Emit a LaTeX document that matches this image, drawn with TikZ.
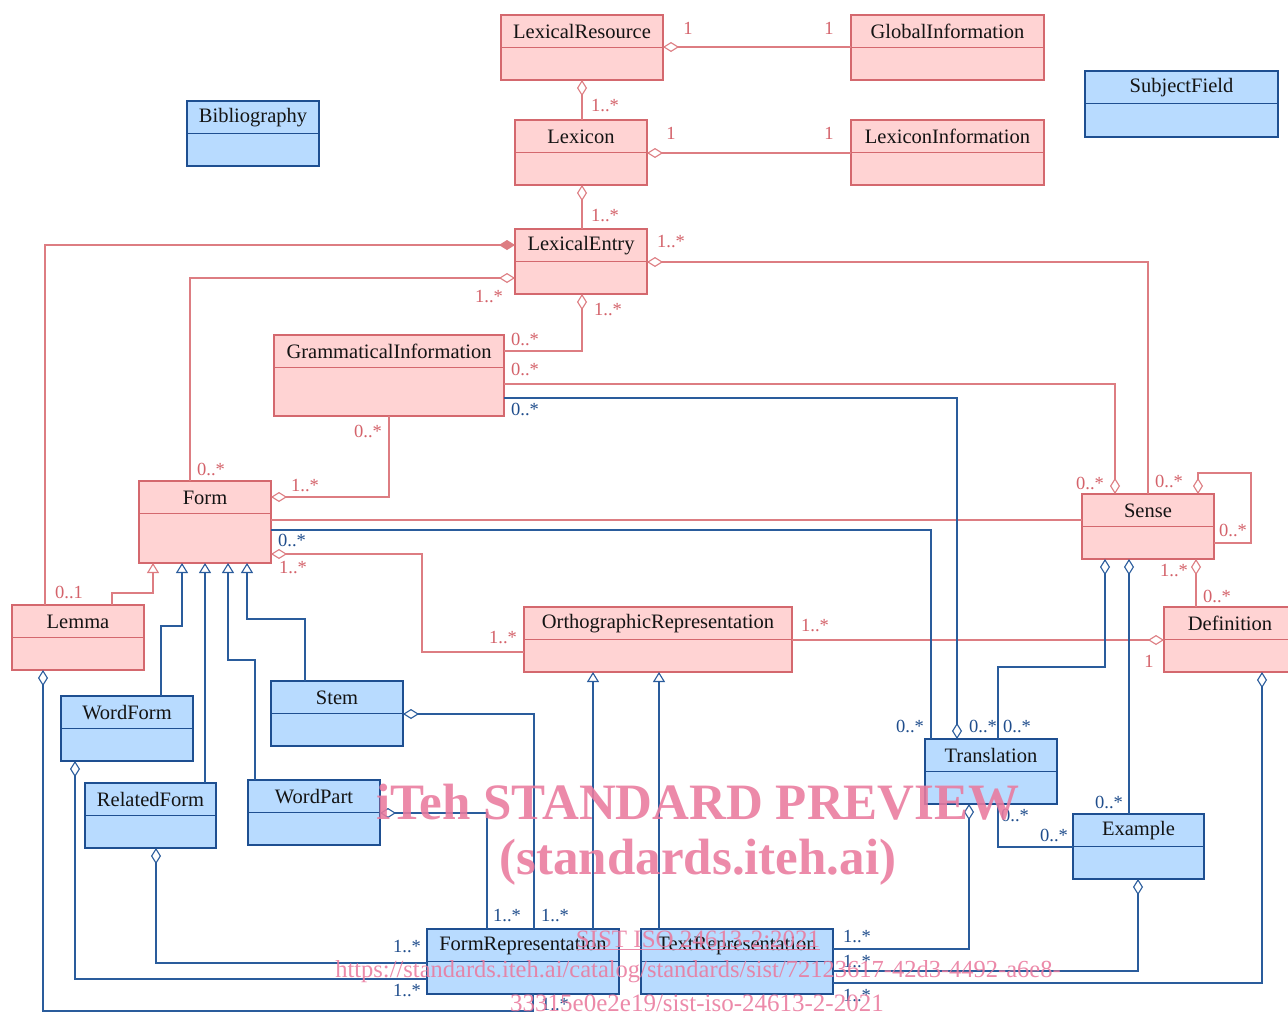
\documentclass[tikz,border=0pt]{standalone}
\usepackage{fontspec}
\setmainfont{Liberation Serif}
\usetikzlibrary{arrows.meta,calc}
\definecolor{pkfill}{HTML}{FFD3D3}
\definecolor{pkdraw}{HTML}{D4686E}
\definecolor{pkline}{HTML}{DD7D82}
\definecolor{pklab}{HTML}{D4626A}
\definecolor{blfill}{HTML}{B8DBFF}
\definecolor{bldraw}{HTML}{1E4F91}
\definecolor{blline}{HTML}{2A5C9C}
\definecolor{bllab}{HTML}{1F4D8C}
\definecolor{wmcol}{HTML}{EA7A9E}
\tikzset{
  pkbox/.style={draw=pkdraw, fill=pkfill, line width=1.2pt, rectangle, inner sep=0pt, outer sep=0pt},
  blbox/.style={draw=bldraw, fill=blfill, line width=1.2pt, rectangle, inner sep=0pt, outer sep=0pt},
  pkdiv/.style={draw=pkdraw, line width=1.8pt},
  bldiv/.style={draw=bldraw, line width=1.8pt},
  hdr/.style={inner sep=0pt, text=black!92, font=\fontsize{20.5}{23}\selectfont},
  pk/.style={draw=pkline, line width=1.1pt},
  bl/.style={draw=blline, line width=1.1pt},
  pklbl/.style={inner sep=0pt, text=pklab, font=\fontsize{18.5}{20}\selectfont},
  bllbl/.style={inner sep=0pt, text=bllab, font=\fontsize{18.5}{20}\selectfont},
  wm/.style={inner sep=0pt, text=wmcol, text opacity=0.88},
  odia/.tip={Diamond[open,fill=white,length=16pt,width=10pt]},
  fdia/.tip={Diamond[length=16pt,width=10pt]},
  gtri/.tip={Triangle[open,fill=white,length=10pt,width=12pt]},
}
\newcommand\umlbox[7]{%
  \node[#6box, minimum width=#4pt, minimum height=#5pt, anchor=north west] (#1) at (#2,#3) {};
  \draw[#6div] ([yshift=-32.5pt]#1.north west) -- ([yshift=-32.5pt]#1.north east);
  \node[hdr] (#1t) at ([yshift=-16.5pt]#1.north) {#7};
}
\begin{document}
\begin{tikzpicture}[x=1pt,y=-1pt]
\useasboundingbox (0,0) rectangle (1288,1015);
\fill[white] (0,0) rectangle (1288,1015);
% ---------- classes ----------
\umlbox{lr}{501}{15}{162}{65}{pk}{LexicalResource}
\umlbox{ginfo}{851}{15}{193}{65}{pk}{GlobalInformation}
\umlbox{sf}{1085}{71}{193}{66}{bl}{SubjectField}
\umlbox{bib}{187}{101}{132}{65}{bl}{Bibliography}
\umlbox{lex}{515}{120}{132}{65}{pk}{Lexicon}
\umlbox{lexinfo}{851}{120}{193}{65}{pk}{LexiconInformation}
\umlbox{le}{515}{229}{132}{65}{pk}{LexicalEntry}
\umlbox{gram}{274}{335}{230}{81}{pk}{GrammaticalInformation}
\umlbox{form}{139}{481}{132}{82}{pk}{Form}
\umlbox{sense}{1082}{494}{132}{65}{pk}{Sense}
\umlbox{lemma}{12}{605}{132}{65}{pk}{Lemma}
\umlbox{ortho}{524}{607}{268}{65}{pk}{OrthographicRepresentation}
\umlbox{defn}{1164}{607}{132}{65}{pk}{Definition}
\umlbox{wform}{61}{696}{132}{65}{bl}{WordForm}
\umlbox{stem}{271}{681}{132}{65}{bl}{Stem}
\umlbox{trans}{925}{739}{132}{65}{bl}{Translation}
\umlbox{rform}{85}{783}{131}{65}{bl}{RelatedForm}
\umlbox{wpart}{248}{780}{132}{65}{bl}{WordPart}
\umlbox{ex}{1073}{814}{131}{65}{bl}{Example}
\umlbox{frep}{427}{929}{192}{65}{bl}{FormRepresentation}
\umlbox{trep}{641}{929}{192}{65}{bl}{TextRepresentation}

% ---------- pink associations ----------
\draw[pk, odia-] (lr.east |- 0,47) -- (ginfo.west |- 0,47);
\draw[pk, odia-] (lr.south -| 582,0) -- (lex.north -| 582,0);
\draw[pk, odia-] (lex.east |- 0,153) -- (lexinfo.west |- 0,153);
\draw[pk, odia-] (lex.south -| 582,0) -- (le.north -| 582,0);
\draw[pk, fdia-] (le.west |- 0,245) -| (lemma.north -| 45,0);
\draw[pk, odia-] (le.west |- 0,278) -| (form.north -| 190,0);
\draw[pk, odia-] (le.south -| 582,0) |- (gram.east |- 0,351);
\draw[pk, odia-] (le.east |- 0,262) -| (sense.north -| 1148,0);
\draw[pk, -odia] (gram.east |- 0,384) -| (sense.north -| 1115,0);
\draw[pk, -odia] (gram.south -| 389,0) |- (form.east |- 0,497);
\draw[pk] (form.east |- 0,520) -- (sense.west |- 0,520);
\draw[pk, odia-] (form.east |- 0,554) -- (422,554) |- (ortho.west |- 0,652);
\draw[pk, -odia] (ortho.east |- 0,640) -- (defn.west |- 0,640);
\draw[pk, odia-] (sense.north -| 1198,0) -- (1198,473) -- (1251,473) -- (1251,543) -- (sense.east |- 0,543);
\draw[pk, odia-] (sense.south -| 1196,0) -- (defn.north -| 1196,0);
\draw[pk, -gtri] (lemma.north -| 112,0) -- (112,593) -- (153,593) -- (form.south -| 153,0);

% ---------- blue associations ----------
\draw[bl, -gtri] (wform.north -| 161,0) |- (182,626) -- (form.south -| 182,0);
\draw[bl, -gtri] (rform.north -| 205,0) -- (form.south -| 205,0);
\draw[bl, -gtri] (wpart.north -| 255,0) |- (228,660) -- (form.south -| 228,0);
\draw[bl, -gtri] (stem.north -| 305,0) |- (247,619) -- (form.south -| 247,0);
\draw[bl, -odia] (gram.east |- 0,398) -| (trans.north -| 957,0);
\draw[bl] (form.east |- 0,530) -| (trans.north -| 931,0);
\draw[bl, odia-] (sense.south -| 1105,0) |- (998,667) -- (trans.north -| 998,0);
\draw[bl, odia-] (sense.south -| 1129,0) -- (ex.north -| 1129,0);
\draw[bl] (trans.south -| 998,0) |- (ex.west |- 0,847);
\draw[bl, odia-] (trans.south -| 969,0) |- (trep.east |- 0,949);
\draw[bl, odia-] (ex.south -| 1138,0) |- (trep.east |- 0,971);
\draw[bl, odia-] (defn.south -| 1262,0) |- (trep.east |- 0,983);
\draw[bl, -gtri] (frep.north -| 593,0) -- (ortho.south -| 593,0);
\draw[bl, -gtri] (trep.north -| 659,0) -- (ortho.south -| 659,0);
\draw[bl, odia-] (stem.east |- 0,714) -| (frep.north -| 534,0);
\draw[bl, odia-] (wpart.east |- 0,813) -| (frep.north -| 487,0);
\draw[bl, odia-] (rform.south -| 156,0) |- (frep.west |- 0,963);
\draw[bl, odia-] (wform.south -| 75,0) |- (frep.west |- 0,979);
\draw[bl, odia-] (lemma.south -| 43,0) |- (533,1011) -- (frep.south -| 533,0);

% ---------- multiplicities ----------
\foreach \t/\x/\y [count=\i] in {
  1/688/28, 1/829/28, 1..*/605/106, 1/671/133, 1/829/133, 1..*/605/216,
  1..*/671/242, 1..*/489/297, 1..*/608/310, 0..*/525/339, 0..*/525/369,
  0..*/368/431, 0..*/211/469, 1..*/305/486, 0..*/1090/483, 0..*/1169/481,
  0..*/1233/530, 1..*/293/568, 1..*/1174/571, 0..*/1217/596, 0..1/69/592,
  1..*/503/638, 1..*/815/626, 1/1149/661}
  \node[pklbl] (pm\i) at (\x,\y) {\t};
\foreach \t/\x/\y [count=\i] in {
  0..*/525/409, 0..*/292/540, 0..*/910/726, 0..*/983/726, 0..*/1017/726,
  0..*/1109/802, 0..*/1015/815, 0..*/1054/835, 1..*/507/916, 1..*/555/916,
  1..*/407/947, 1..*/407/991, 1..*/555/1005, 1..*/857/937, 1..*/857/962,
  1..*/857/996}
  \node[bllbl] (bm\i) at (\x,\y) {\t};

% ---------- watermark ----------
\node[wm, font=\bfseries\fontsize{51}{51}\selectfont] (wm1) at (698,802) {iTeh STANDARD PREVIEW};
\node[wm, font=\bfseries\fontsize{51}{51}\selectfont] (wm2) at (698,862) {(standards.iteh.ai)};
\node[wm, font=\fontsize{25}{25}\selectfont] (wm3) at (698,940) {\underline{SIST ISO 24613-2:2021}};
\node[wm, font=\fontsize{24.5}{25}\selectfont] (wm4) at (698,972) {https://standards.iteh.ai/catalog/standards/sist/72123617-42d3-4492-a6e8-};
\node[wm, font=\fontsize{25}{25}\selectfont] (wm5) at (697,1003) {33315e0e2e19/sist-iso-24613-2-2021};
\end{tikzpicture}
\end{document}
